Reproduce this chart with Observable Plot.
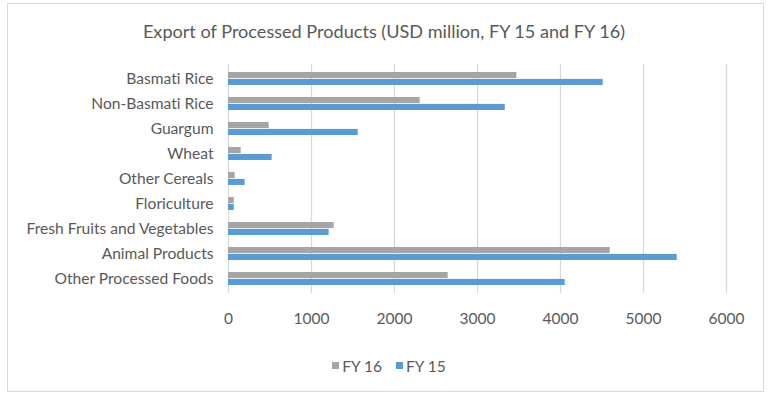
<!DOCTYPE html>
<html>
<head>
<meta charset="utf-8">
<script src="https://cdn.jsdelivr.net/npm/d3@7"></script>
<script src="https://cdn.jsdelivr.net/npm/@observablehq/plot@0.6"></script>
<style>
  html, body { margin: 0; padding: 0; background: #fff; }
  #wrap { position: relative; width: 768px; height: 397px; overflow: hidden; font-family: Lato, "Open Sans", sans-serif; color: #595959; font-variant-ligatures: none; }
  #wrap svg text { font-variant-ligatures: none; }
  #frame { position: absolute; left: 7px; top: 3px; width: 757px; height: 389px; border: 1px solid #d9d9d9; box-sizing: border-box; }
  #title { position: absolute; left: 0; width: 768px; top: 19px; text-align: center; font-size: 18.1px; line-height: 24px; }
  #chart { position: absolute; left: 0; top: 0; }
  #legend { position: absolute; left: 0; width: 778px; top: 353px; text-align: center; font-size: 15.5px; line-height: 20px; }
  #legend span.item { display: inline-flex; align-items: center; margin: 0 7px; }
  #legend span.sw { display: inline-block; width: 7px; height: 7px; margin-right: 3px; }
</style>
</head>
<body>
<div id="wrap">
  <div id="frame"></div>
  <div id="chart"></div>
  <div id="title">Export of Processed Products (USD million, FY 15 and FY 16)</div>
  <div id="legend"></div>
</div>
<script>
const categories = ["Basmati Rice", "Non-Basmati Rice", "Guargum", "Wheat", "Other Cereals", "Floriculture", "Fresh Fruits and Vegetables", "Animal Products", "Other Processed Foods"];
const fy16 = [3475, 2310, 490, 153, 80, 69, 1273, 4599, 2647];
const fy15 = [4515, 3335, 1563, 526, 200, 69, 1213, 5406, 4057];
const xTicks = [0, 1000, 2000, 3000, 4000, 5000, 6000];
const seriesNames = ["FY 16", "FY 15"];
const seriesColors = ["#a5a5a5", "#5b9bd5"];

const rows = categories.map((c, i) => ({category: c, fy16: fy16[i], fy15: fy15[i]}));

const chart = Plot.plot({
  width: 768,
  height: 397,
  marginTop: 64,
  marginBottom: 104,
  marginLeft: 228,
  marginRight: 42,
  style: {fontFamily: "Lato, 'Open Sans', sans-serif", fontSize: "15.5px", color: "#595959", background: "transparent"},
  x: {domain: [0, 6000], ticks: xTicks, tickFormat: d => String(d), label: null},
  y: {domain: categories, padding: 0, label: null},
  marks: [
    Plot.gridX(xTicks, {stroke: "#d9d9d9", strokeOpacity: 1, strokeWidth: 1.3}),
    Plot.barX(rows, {y: "category", x: "fy16", fill: seriesColors[0], insetTop: 6, insetBottom: 12.9}),
    Plot.barX(rows, {y: "category", x: "fy15", fill: seriesColors[1], insetTop: 12.9, insetBottom: 6}),
    Plot.axisX({ticks: xTicks, tickSize: 0, tickPadding: 19, tickFormat: d => String(d), fill: "#595959", fontSize: 15.5, label: null}),
    Plot.axisY({tickSize: 0, tickPadding: 15, fill: "#595959", fontSize: 15.6, label: null})
  ]
});
document.getElementById("chart").appendChild(chart);

const legend = document.getElementById("legend");
seriesNames.forEach((name, i) => {
  const item = document.createElement("span");
  item.className = "item";
  const sw = document.createElement("span");
  sw.className = "sw";
  sw.style.background = seriesColors[i];
  item.appendChild(sw);
  item.appendChild(document.createTextNode(name));
  legend.appendChild(item);
});
</script>
</body>
</html>
